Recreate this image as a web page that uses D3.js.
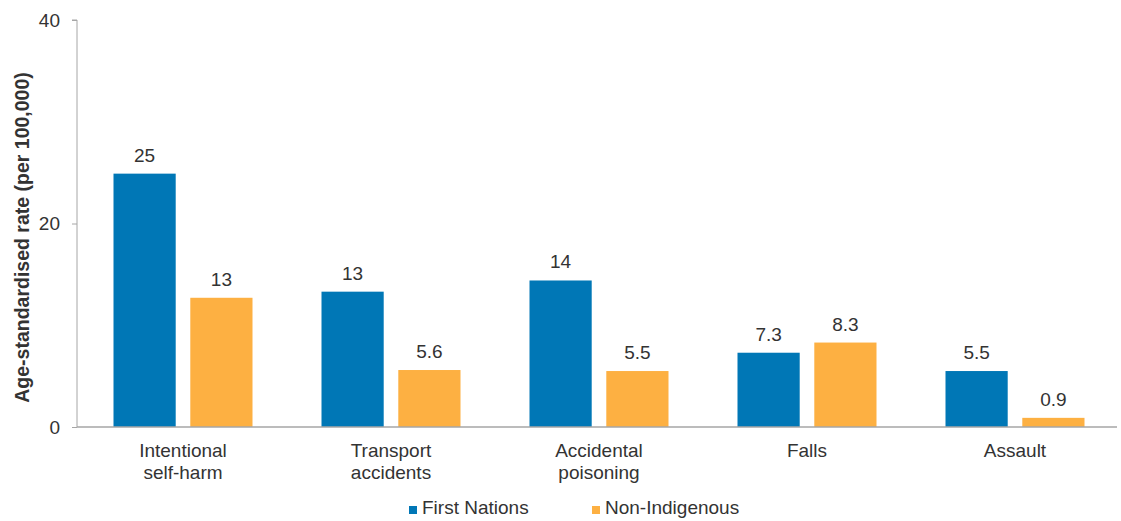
<!DOCTYPE html>
<html><head><meta charset="utf-8">
<script src="https://cdn.jsdelivr.net/npm/d3@7"></script>
<style>body{margin:0;background:#fff}svg{display:block;font-family:"Liberation Sans",Arial,sans-serif}</style>
</head><body><svg id="c" width="1121" height="521"></svg>
<script>
const categories = [["Intentional","self-harm"],["Transport","accidents"],["Accidental","poisoning"],["Falls"],["Assault"]];
const seriesNames = ["First Nations","Non-Indigenous"];
const firstNations = [24.9, 13.3, 14.4, 7.3, 5.5];
const nonIndigenous = [12.7, 5.6, 5.5, 8.3, 0.9];
const firstNationsLabels = ["25","13","14","7.3","5.5"];
const nonIndigenousLabels = ["13","5.6","5.5","8.3","0.9"];
const yTicks = [0, 20, 40];
const colors = ["#0077B6", "#FDB042"];

const svg = d3.select("#c");
const m = {l:77, r:4, t:20, b:94};
const W = 1121, H = 521;
const FS = 19;
const x0 = d3.scaleBand().domain(d3.range(categories.length)).range([m.l, W-m.r]).paddingInner(0).paddingOuter(0);
const y = d3.scaleLinear().domain([0,40]).range([H-m.b, m.t]);
const gw = 139;
const x1 = d3.scaleBand().domain([0,1]).range([0,gw]).paddingInner(0.19);
const groupOffset = (x0.bandwidth()-gw)/2 + 2;

const series = [firstNations, nonIndigenous];
const labels = [firstNationsLabels, nonIndigenousLabels];

series.forEach((vals, s) => {
  svg.append("g").selectAll("rect").data(vals).join("rect")
    .attr("x", (d,i) => x0(i)+groupOffset+x1(s))
    .attr("width", x1.bandwidth())
    .attr("y", d => y(d))
    .attr("height", d => y(0)-y(d))
    .attr("fill", colors[s]);
  svg.append("g").selectAll("text").data(vals).join("text")
    .attr("x", (d,i) => x0(i)+groupOffset+x1(s)+x1.bandwidth()/2)
    .attr("y", d => y(d)-12)
    .attr("text-anchor","middle")
    .attr("font-size",FS).attr("fill","#333")
    .text((d,i) => labels[s][i]);
});

// y axis
const ya = svg.append("g").attr("transform",`translate(${m.l},0)`)
  .call(d3.axisLeft(y).tickValues(yTicks).tickSize(5).tickPadding(12).tickFormat(d3.format("d")));
ya.select(".domain").attr("stroke","#a6a6a6").attr("d",`M-5,${y(40)}H0V${y(0)}`);
ya.selectAll(".tick line").attr("stroke","#a6a6a6");
ya.selectAll(".tick text").attr("font-size",FS).attr("fill","#333").attr("font-family","Liberation Sans, Arial, sans-serif");

// x axis line
svg.append("line").attr("x1",m.l).attr("x2",W-m.r).attr("y1",y(0)).attr("y2",y(0)).attr("stroke","#a6a6a6").attr("stroke-width",1.5);

// category labels
categories.forEach((lines,i) => {
  const cx = x0(i)+x0.bandwidth()/2+2;
  const t = svg.append("text").attr("x", cx).attr("y", 457)
    .attr("text-anchor","middle").attr("font-size",FS).attr("fill","#333");
  lines.forEach((ln,k) => t.append("tspan").attr("x", cx).attr("dy", k===0?0:22).text(ln));
});

// y title
svg.append("text").attr("transform",`translate(29,${(m.t+y(0))/2+14}) rotate(-90)`)
  .attr("text-anchor","middle").attr("font-size",19.5).attr("font-weight","bold").attr("fill","#333")
  .text("Age-standardised rate (per 100,000)");

// legend
const lg = svg.append("g");
const lx = [409, 592];
seriesNames.forEach((n,s) => {
  lg.append("rect").attr("x",lx[s]).attr("y",506).attr("width",8).attr("height",8).attr("fill",colors[s]);
  lg.append("text").attr("x",lx[s]+13).attr("y",514).attr("font-size",FS).attr("fill","#333").text(n);
});
</script></body></html>
